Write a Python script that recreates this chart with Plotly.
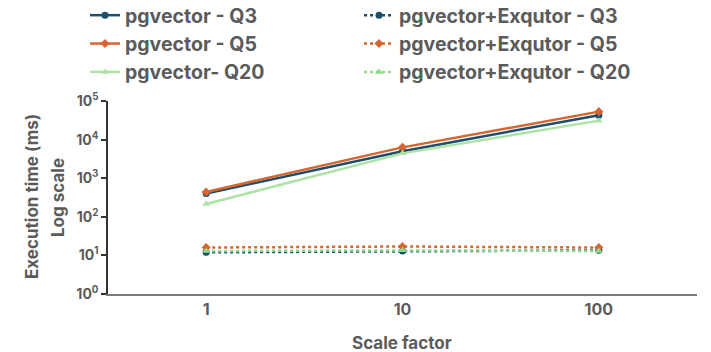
import plotly.graph_objects as go

# Données (temps d'exécution en ms)
SCALE = ['1', '10', '100']

PG_Q3 = [400, 5000, 43000]
PG_Q5 = [440, 6300, 53000]
PG_Q20 = [215, 4400, 31000]

EX_Q3 = [12, 13, 13.5]
EX_Q5 = [16, 17, 16]
EX_Q20 = [13, 13.5, 13]

Y_TICKS = [1, 10, 100, 1000, 10000, 100000]
Y_TEXT = ['10<sup>0</sup>', '10<sup>1</sup>', '10<sup>2</sup>',
          '10<sup>3</sup>', '10<sup>4</sup>', '10<sup>5</sup>']

BLUE = '#1d4e6c'
ORANGE = '#d5662f'
GREEN = '#ade3a3'
GREEN_DOT = '#8fd98a'
TXT = '#5b5b5b'
FONT = 'Inter'

SERIES = [
    ('pgvector - Q3', PG_Q3, BLUE, 'solid', 'circle', 'legend'),
    ('pgvector - Q5', PG_Q5, ORANGE, 'solid', 'diamond', 'legend'),
    ('pgvector- Q20', PG_Q20, GREEN, 'solid', 'triangle-up', 'legend'),
    ('pgvector+Exqutor - Q3', EX_Q3, BLUE, 'dot', 'circle', 'legend2'),
    ('pgvector+Exqutor - Q5', EX_Q5, ORANGE, 'dot', 'diamond', 'legend2'),
    ('pgvector+Exqutor - Q20', EX_Q20, GREEN_DOT, 'dot', 'triangle-up', 'legend2'),
]

# la page ajoute ~8 px de marge au body : on décale tout en conséquence
W, H = 703, 344
ML, MR, MT, MB = 100, 14, 93, 58
PW = W - ML - MR   # 589
PH = H - MT - MB   # 193


def px_x(x):
    """x écran -> coordonnée paper"""
    return (x - 8 - ML) / PW


def px_y(y):
    """y écran -> coordonnée paper"""
    return (H - MB - (y - 8)) / PH


fig = go.Figure()

for i, (name, vals, clr, dash, sym, leg) in enumerate(SERIES):
    fig.add_trace(go.Scatter(
        x=SCALE, y=vals, name=name,
        mode='lines+markers',
        line=dict(color=clr, width=2.5, dash=dash),
        marker=dict(color=clr, size=7, symbol=sym),
        legend=leg, legendgroup=f'g{i}',
    ))

leg_font = dict(family=FONT, size=19.5, color=TXT, weight='bold')
title_font = dict(family=FONT, size=17, color=TXT, weight='bold')

fig.update_layout(
    width=W, height=H,
    plot_bgcolor='white', paper_bgcolor='white',
    font=dict(family=FONT, color=TXT, weight='bold'),
    margin=dict(l=ML, r=MR, t=MT, b=MB, autoexpand=False),
    showlegend=True,
    legend=dict(
        x=px_x(85), y=px_y(-4),
        xanchor='left', yanchor='top',
        font=leg_font, tracegroupgap=0, bgcolor='rgba(0,0,0,0)',
    ),
    legend2=dict(
        x=px_x(359), y=px_y(-4),
        xanchor='left', yanchor='top',
        font=leg_font, tracegroupgap=0, bgcolor='rgba(0,0,0,0)',
    ),
    xaxis=dict(
        type='category', range=[-0.5, 2.5],
        showline=True, linecolor='#7a7a7a', linewidth=2,
        showgrid=False, zeroline=False, ticks='',
        tickfont=dict(family=FONT, size=16, color=TXT, weight='bold'),
    ),
    yaxis=dict(
        type='log', range=[0, 5],
        tickvals=Y_TICKS, ticktext=Y_TEXT,
        showline=True, linecolor='#333333', linewidth=1.5,
        ticks='outside', ticklen=5, tickcolor='#333333', tickwidth=1.5,
        showgrid=False, zeroline=False,
        tickfont=dict(family=FONT, size=14, color=TXT, weight='bold'),
    ),
    annotations=[
        dict(text='Execution time (ms)', textangle=-90,
             x=px_x(32), y=px_y(197), xref='paper', yref='paper',
             xanchor='center', yanchor='middle', showarrow=False,
             font=title_font),
        dict(text='Log scale', textangle=-90,
             x=px_x(58), y=px_y(198), xref='paper', yref='paper',
             xanchor='center', yanchor='middle', showarrow=False,
             font=title_font),
        dict(text='Scale factor',
             x=px_x(402), y=px_y(343), xref='paper', yref='paper',
             xanchor='center', yanchor='middle', showarrow=False,
             font=title_font),
    ],
)

fig.write_html('out.html')
